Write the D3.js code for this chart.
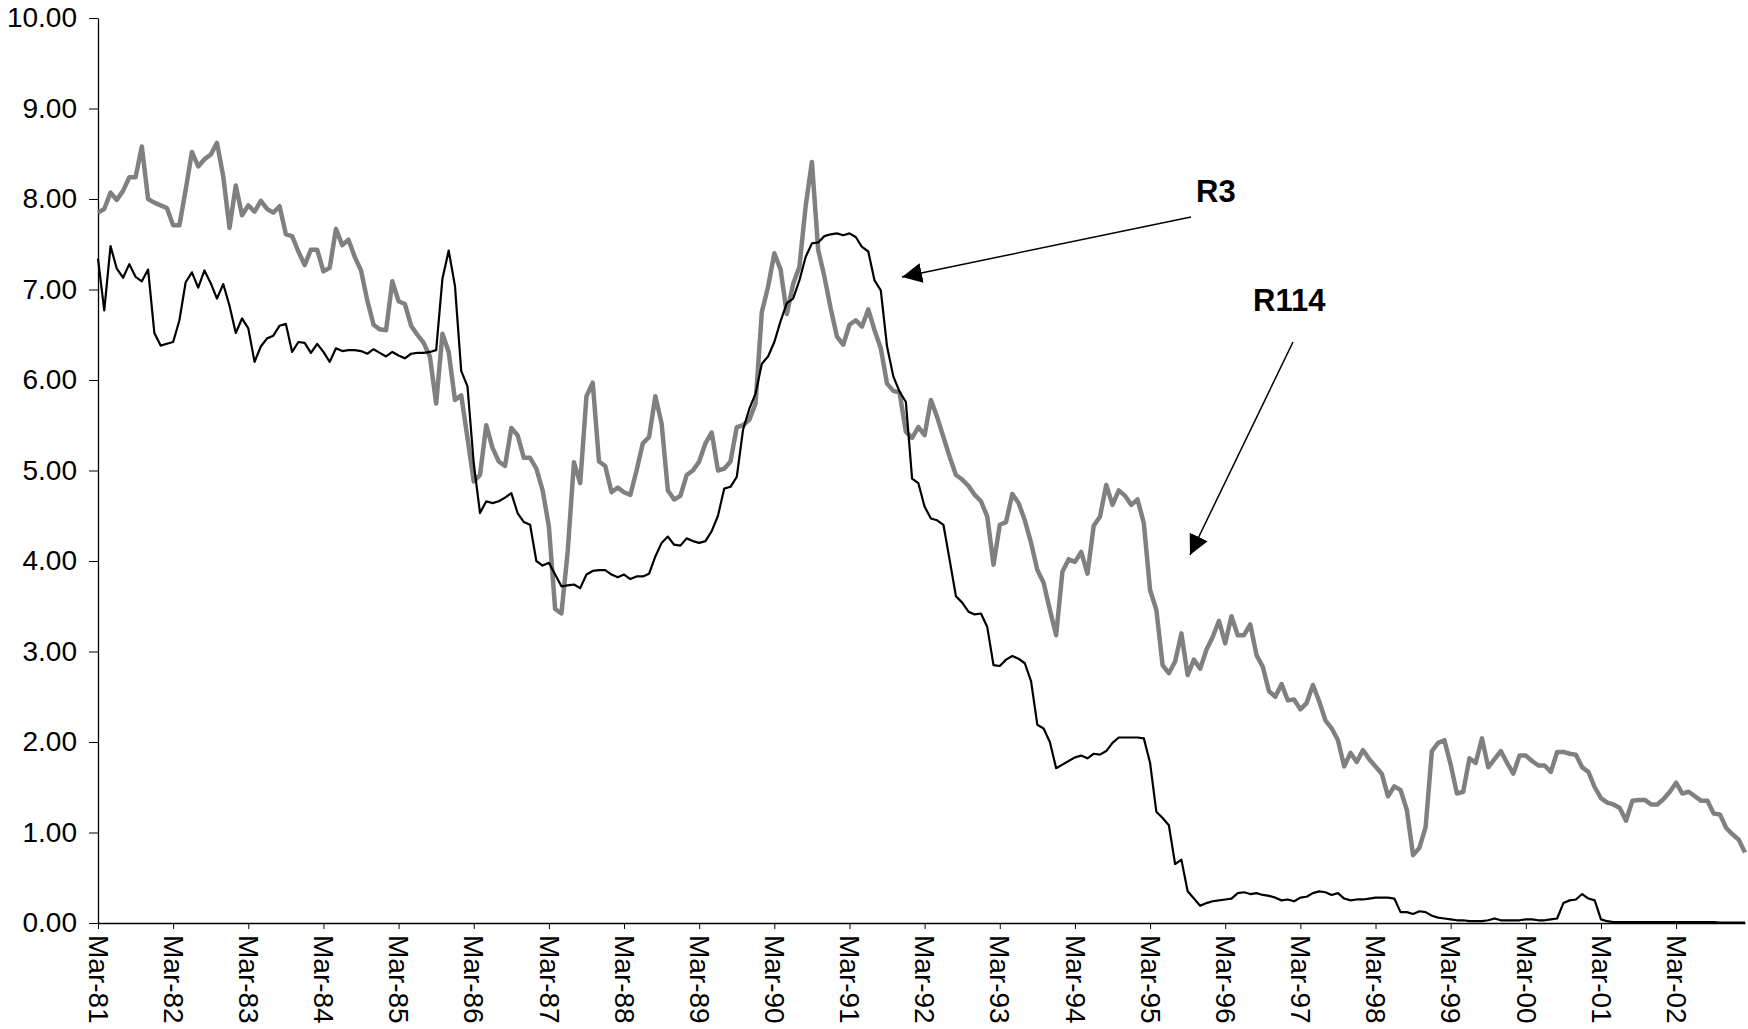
<!DOCTYPE html>
<html>
<head>
<meta charset="utf-8">
<script src="https://cdn.jsdelivr.net/npm/d3@7"></script>
<style>
  body { margin: 0; background: #fff; }
  svg { display: block; font-family: "Liberation Sans", Arial, sans-serif; }
</style>
</head>
<body>
<svg id="chart" width="1748" height="1029"></svg>
<script>
// monthly series, Mar-81 onwards
var r3 = [7.34,6.77,7.48,7.23,7.13,7.28,7.14,7.09,7.22,6.52,6.38,6.40,
  6.42,6.66,7.08,7.19,7.02,7.21,7.07,6.90,7.06,6.82,6.52,6.68,
  6.57,6.20,6.37,6.46,6.49,6.60,6.62,6.31,6.42,6.41,6.30,6.40,
  6.31,6.20,6.35,6.32,6.33,6.33,6.32,6.29,6.34,6.30,6.26,6.31,
  6.27,6.24,6.29,6.30,6.30,6.31,6.33,7.12,7.43,7.04,6.10,5.93,
  5.08,4.53,4.66,4.64,4.66,4.70,4.75,4.53,4.43,4.40,4.00,3.95,
  3.98,3.85,3.72,3.73,3.74,3.70,3.85,3.89,3.90,3.90,3.85,3.82,
  3.85,3.80,3.83,3.83,3.86,4.05,4.20,4.27,4.18,4.17,4.25,4.22,
  4.20,4.22,4.33,4.50,4.80,4.82,4.93,5.45,5.68,5.85,6.18,6.26,
  6.42,6.65,6.85,6.90,7.10,7.36,7.51,7.52,7.59,7.61,7.62,7.60,
  7.62,7.58,7.47,7.42,7.10,6.99,6.37,6.04,5.87,5.76,4.91,4.86,
  4.60,4.47,4.45,4.40,4.01,3.61,3.54,3.44,3.41,3.42,3.27,2.85,
  2.84,2.91,2.95,2.92,2.87,2.67,2.19,2.15,2.00,1.71,1.75,1.79,
  1.83,1.85,1.82,1.87,1.86,1.90,1.99,2.05,2.05,2.05,2.05,2.04,
  1.77,1.23,1.16,1.08,0.65,0.70,0.35,0.27,0.19,0.22,0.24,0.25,
  0.26,0.27,0.33,0.34,0.32,0.33,0.31,0.30,0.28,0.25,0.26,0.24,
  0.28,0.29,0.33,0.35,0.34,0.31,0.33,0.27,0.25,0.26,0.26,0.27,
  0.28,0.28,0.28,0.27,0.12,0.12,0.10,0.13,0.12,0.08,0.06,0.05,
  0.04,0.03,0.03,0.02,0.02,0.02,0.03,0.05,0.03,0.03,0.03,0.03,
  0.04,0.04,0.03,0.03,0.04,0.05,0.22,0.25,0.26,0.32,0.27,0.25,
  0.04,0.02,0.01,0.01,0.01,0.01,0.01,0.01,0.01,0.01,0.01,0.01,
  0.01,0.01,0.01,0.01,0.01,0.01,0.01,0.005,0.005,0.005,0.005,0.005];

var r114 = [7.85,7.89,8.07,7.99,8.09,8.24,8.24,8.58,8.00,7.96,7.93,7.90,
  7.71,7.71,8.10,8.52,8.36,8.44,8.49,8.62,8.25,7.68,8.15,7.82,
  7.93,7.86,7.98,7.89,7.85,7.92,7.61,7.59,7.42,7.27,7.44,7.44,
  7.20,7.24,7.67,7.49,7.55,7.36,7.21,6.88,6.61,6.56,6.55,7.09,
  6.87,6.84,6.60,6.50,6.41,6.26,5.74,6.51,6.31,5.78,5.83,5.36,
  4.88,4.95,5.50,5.25,5.10,5.05,5.47,5.39,5.14,5.14,5.02,4.78,
  4.38,3.47,3.42,4.10,5.09,4.86,5.82,5.97,5.10,5.05,4.76,4.81,
  4.76,4.73,5.00,5.30,5.37,5.82,5.52,4.78,4.68,4.72,4.95,5.00,
  5.10,5.30,5.42,5.00,5.02,5.10,5.48,5.50,5.56,5.74,6.75,7.03,
  7.40,7.22,6.73,7.06,7.25,7.92,8.41,7.44,7.14,6.79,6.48,6.39,
  6.61,6.66,6.59,6.78,6.55,6.35,5.96,5.88,5.86,5.43,5.36,5.48,
  5.39,5.78,5.59,5.37,5.15,4.95,4.90,4.83,4.73,4.66,4.49,3.96,
  4.40,4.43,4.74,4.64,4.45,4.20,3.90,3.76,3.46,3.18,3.88,4.02,
  3.99,4.10,3.86,4.39,4.49,4.84,4.62,4.78,4.72,4.62,4.68,4.42,
  3.68,3.46,2.85,2.76,2.89,3.20,2.74,2.91,2.81,3.02,3.16,3.34,
  3.09,3.39,3.18,3.18,3.30,2.96,2.83,2.56,2.50,2.64,2.46,2.47,
  2.36,2.43,2.63,2.45,2.24,2.15,2.02,1.73,1.88,1.78,1.91,1.81,
  1.73,1.65,1.40,1.51,1.47,1.25,0.75,0.83,1.06,1.90,1.99,2.02,
  1.75,1.43,1.45,1.82,1.77,2.04,1.72,1.81,1.90,1.77,1.65,1.85,
  1.85,1.79,1.74,1.74,1.67,1.89,1.89,1.87,1.86,1.72,1.67,1.50,
  1.38,1.33,1.31,1.27,1.13,1.35,1.36,1.36,1.31,1.31,1.37,1.45,
  1.55,1.43,1.45,1.40,1.35,1.35,1.21,1.20,1.05,0.98,0.92,0.78];

var tickLabels = ["Mar-81","Mar-82","Mar-83","Mar-84","Mar-85","Mar-86","Mar-87",
  "Mar-88","Mar-89","Mar-90","Mar-91","Mar-92","Mar-93","Mar-94","Mar-95",
  "Mar-96","Mar-97","Mar-98","Mar-99","Mar-00","Mar-01","Mar-02"];
var yTicks = [0,1,2,3,4,5,6,7,8,9,10];

var svg = d3.select("#chart");
var mLeft = 98, mRight = 1745, mTop = 18, mBottom = 923;
var n = r3.length;

var x = d3.scaleLinear().domain([0, n - 1]).range([mLeft, mRight]);
var y = d3.scaleLinear().domain([0, 10]).range([mBottom, mTop]);

// y axis
var yAxis = svg.append("g")
  .attr("transform", "translate(" + mLeft + ",0)")
  .call(d3.axisLeft(y).tickValues(yTicks).tickFormat(d3.format(".2f")).tickSize(9).tickSizeOuter(0).tickPadding(12));
yAxis.select(".domain").attr("stroke", "#000").attr("stroke-width", 1.3);
yAxis.selectAll(".tick line").attr("stroke", "#000");
yAxis.selectAll("text").attr("font-size", 28).attr("fill", "#000");

// x axis, one label per year
var xAxis = svg.append("g")
  .attr("transform", "translate(0," + mBottom + ")")
  .call(d3.axisBottom(x)
    .tickValues(tickLabels.map(function(d, i) { return i * 12; }))
    .tickFormat(function(d, i) { return tickLabels[i]; })
    .tickSize(6).tickSizeOuter(0));
xAxis.select(".domain").attr("stroke", "#000").attr("stroke-width", 1.3);
xAxis.selectAll(".tick line").attr("stroke", "#000");
xAxis.selectAll("text")
  .attr("font-size", 28)
  .attr("fill", "#000")
  .attr("text-anchor", "start")
  .attr("transform", "rotate(90)")
  .attr("x", 12)
  .attr("y", 0)
  .attr("dy", "0.35em");

var line = d3.line()
  .x(function(d, i) { return x(i); })
  .y(function(d) { return y(d); });

svg.append("path")
  .datum(r114)
  .attr("d", line)
  .attr("fill", "none")
  .attr("stroke", "#808080")
  .attr("stroke-width", 4.5)
  .attr("stroke-linejoin", "round");

svg.append("path")
  .datum(r3)
  .attr("d", line)
  .attr("fill", "none")
  .attr("stroke", "#000")
  .attr("stroke-width", 2.2)
  .attr("stroke-linejoin", "round");

// arrows + labels
svg.append("defs").append("marker")
  .attr("id", "head")
  .attr("viewBox", "0 0 10 10")
  .attr("refX", 10).attr("refY", 5)
  .attr("markerWidth", 20).attr("markerHeight", 20)
  .attr("markerUnits", "userSpaceOnUse")
  .attr("orient", "auto")
  .append("path")
  .attr("d", "M0,0 L10,5 L0,10 Z")
  .attr("fill", "#000");

var arrows = [
  {x1: 1191, y1: 217, x2: 902, y2: 277},
  {x1: 1293, y1: 342, x2: 1190, y2: 555}
];
svg.selectAll("line.arrow").data(arrows).enter().append("line")
  .attr("class", "arrow")
  .attr("x1", function(d) { return d.x1; })
  .attr("y1", function(d) { return d.y1; })
  .attr("x2", function(d) { return d.x2; })
  .attr("y2", function(d) { return d.y2; })
  .attr("stroke", "#000")
  .attr("stroke-width", 1.5)
  .attr("marker-end", "url(#head)");

svg.append("text").attr("x", 1196).attr("y", 202)
  .attr("font-size", 31).attr("font-weight", "bold").text("R3");
svg.append("text").attr("x", 1253).attr("y", 311)
  .attr("font-size", 31).attr("font-weight", "bold").text("R114");
</script>
</body>
</html>
